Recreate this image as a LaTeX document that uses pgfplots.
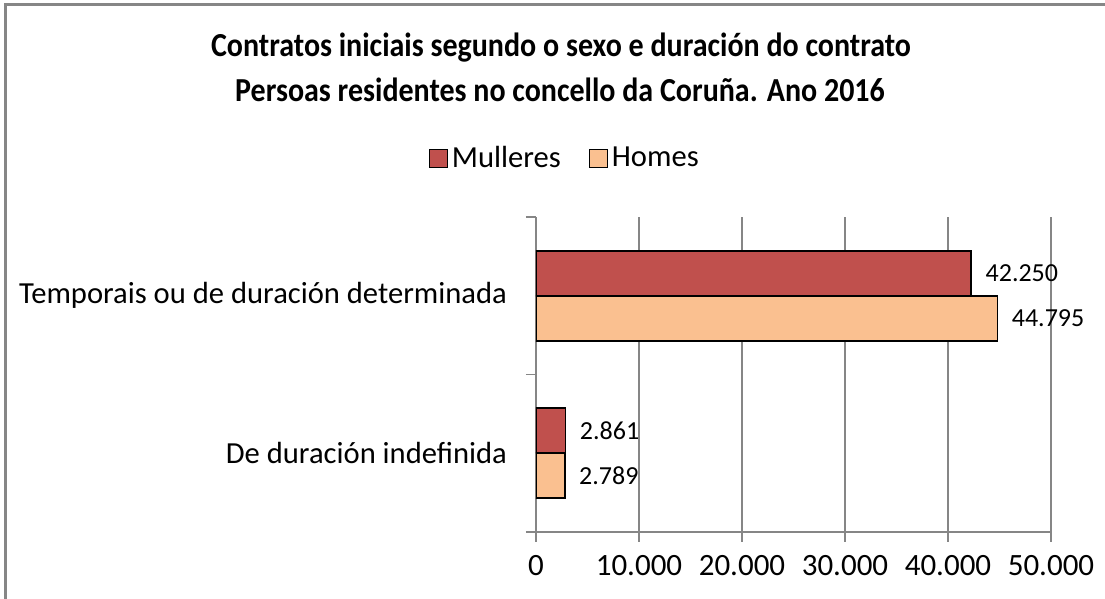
\documentclass[border=0pt]{standalone}
\usepackage{pgfplots}
\pgfplotsset{compat=1.18}
\usepackage{fontspec}
\setmainfont{Carlito}
\definecolor{cMul}{HTML}{C0504D}
\definecolor{cHom}{HTML}{FAC090}
\definecolor{cGrid}{HTML}{868686}
\begin{document}
\begin{tikzpicture}
\useasboundingbox (0pt,0pt) rectangle (552.5pt,299.5pt);
\draw[cGrid,line width=1.5pt] (2.5pt,-2pt) -- (2.5pt,297pt) -- (555pt,297pt);
\node[font=\fontsize{15}{18}\selectfont\bfseries, yscale=1.12] at (280.5pt,275.5pt) {Contratos iniciais segundo o sexo e duración do contrato};
\node[font=\fontsize{15}{18}\selectfont\bfseries, yscale=1.12] at (280pt,254.5pt) {Persoas residentes no concello da Coruña. Ano 2016};
\begin{axis}[
  at={(268pt,33.5pt)}, anchor=south west,
  scale only axis, width=257.5pt, height=157.5pt,
  xbar, bar width=22.5pt,
  xmin=0, xmax=50000, ymin=-0.5, ymax=1.5,
  axis x line*=bottom, axis y line*=left,
  axis line style={cGrid, line width=0.8pt},
  xtick={0,10000,20000,30000,40000,50000},
  scaled x ticks=false,
  /pgf/number format/assume math mode=true,
  /pgf/number format/1000 sep={.},
  xticklabel style={font=\fontsize{15.5}{18}\selectfont, yshift=-3pt},
  xmajorgrids, grid style={cGrid, line width=0.8pt},
  ytick={-0.5,0.5,1.5}, yticklabels={},
  extra y ticks={0,1},
  extra y tick labels={De duración indefinida, Temporais ou de duración determinada},
  extra y tick style={major tick length=0pt, yticklabel style={font=\fontsize{15.3}{18}\selectfont, xshift=-11pt}},
  tick align=outside, major tick length=5pt,
  tick style={cGrid, line width=0.8pt},
  nodes near coords={\pgfmathprintnumber{\pgfplotspointmeta}},
  nodes near coords style={font=\fontsize{13}{16}\selectfont, anchor=west, xshift=3.5pt, text=black},
  legend style={at={(0.058,1.187)}, anchor=center, draw=none, font=\fontsize{15.3}{18}\selectfont, legend columns=2,
    /tikz/every even column/.append style={column sep=12pt}},
  legend image code/.code={\draw[#1,draw=black,line width=0.5pt] (0pt,-4.5pt) rectangle (9pt,4.5pt);},
]
\addplot[fill=cMul, draw=black, line width=0.8pt, bar shift=11.25pt] coordinates {(2861,0) (42250,1)};
\addplot[fill=cHom, draw=black, line width=0.8pt, bar shift=-11.25pt] coordinates {(2789,0) (44795,1)};
\legend{Mulleres, Homes}
\end{axis}
\end{tikzpicture}
\end{document}
